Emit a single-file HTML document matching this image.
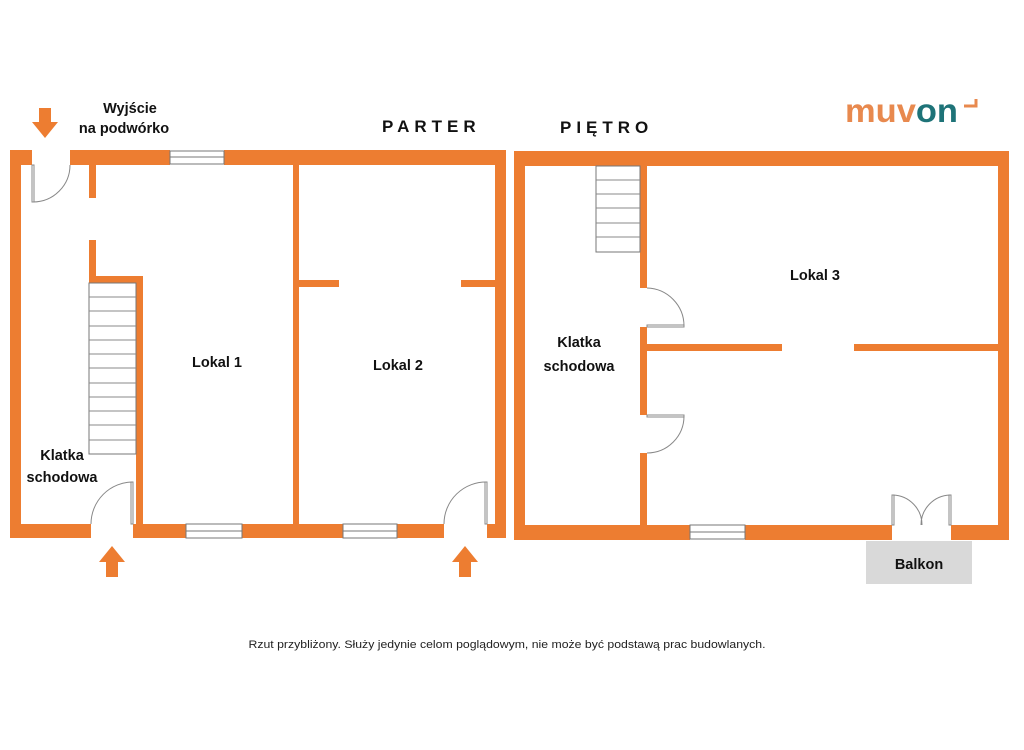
<!DOCTYPE html>
<html><head><meta charset="utf-8"><style>
html,body{margin:0;padding:0;background:#fff;}
svg{display:block;}
text{font-family:"Liberation Sans",sans-serif;}
</style></head><body>
<svg width="1024" height="750" viewBox="0 0 1024 750" xmlns="http://www.w3.org/2000/svg">
<g fill="#ED7D31">
<rect x="10" y="150" width="22" height="15"/>
<rect x="70" y="150" width="100" height="15"/>
<rect x="224" y="150" width="282" height="15"/>
<rect x="10" y="150" width="11" height="388"/>
<rect x="495" y="150" width="11" height="388"/>
<rect x="10" y="524" width="81" height="14"/>
<rect x="133" y="524" width="53" height="14"/>
<rect x="242" y="524" width="101" height="14"/>
<rect x="397" y="524" width="47" height="14"/>
<rect x="487" y="524" width="19" height="14"/>
<rect x="89" y="164" width="7" height="34"/>
<rect x="89" y="240" width="7" height="43"/>
<rect x="89" y="276" width="54" height="7"/>
<rect x="136" y="276" width="7" height="250"/>
<rect x="293" y="164" width="6" height="362"/>
<rect x="299" y="280" width="40" height="7"/>
<rect x="461" y="280" width="34" height="7"/>
<polygon points="39,108 51,108 51,122 58,122 45,138 32,122 39,122"/>
<polygon points="106,577 118,577 118,562 125,562 112,546 99,562 106,562"/>
<polygon points="459,577 471,577 471,562 478,562 465,546 452,562 459,562"/>
<rect x="514" y="151" width="495" height="15"/>
<rect x="514" y="151" width="11" height="389"/>
<rect x="998" y="151" width="11" height="389"/>
<rect x="514" y="525" width="176" height="15"/>
<rect x="745" y="525" width="147" height="15"/>
<rect x="951" y="525" width="58" height="15"/>
<rect x="640" y="166" width="7" height="122"/>
<rect x="640" y="327" width="7" height="88"/>
<rect x="640" y="453" width="7" height="73"/>
<rect x="647" y="344" width="135" height="7"/>
<rect x="854" y="344" width="144" height="7"/>
</g>
<g fill="#fff" stroke="#777" stroke-width="1">
<rect x="170" y="151" width="54" height="13"/><line x1="170" y1="157" x2="224" y2="157"/>
<rect x="186" y="524" width="56" height="14"/><line x1="186" y1="531" x2="242" y2="531"/>
<rect x="343" y="524" width="54" height="14"/><line x1="343" y1="531" x2="397" y2="531"/>
<rect x="690" y="525" width="55" height="14"/><line x1="690" y1="532" x2="745" y2="532"/>
<rect x="89" y="283" width="47" height="171"/>
<rect x="596" y="166" width="44" height="86"/>
</g>
<g stroke="#888" stroke-width="1" fill="none">
<line x1="89" y1="297" x2="136" y2="297"/><line x1="89" y1="311" x2="136" y2="311"/><line x1="89" y1="326" x2="136" y2="326"/><line x1="89" y1="340" x2="136" y2="340"/><line x1="89" y1="354" x2="136" y2="354"/><line x1="89" y1="368" x2="136" y2="368"/><line x1="89" y1="383" x2="136" y2="383"/><line x1="89" y1="397" x2="136" y2="397"/><line x1="89" y1="411" x2="136" y2="411"/><line x1="89" y1="425" x2="136" y2="425"/><line x1="89" y1="440" x2="136" y2="440"/>
<line x1="596" y1="180" x2="640" y2="180"/><line x1="596" y1="194" x2="640" y2="194"/><line x1="596" y1="208" x2="640" y2="208"/><line x1="596" y1="223" x2="640" y2="223"/><line x1="596" y1="237" x2="640" y2="237"/>
<rect x="32" y="165" width="2" height="37"/><path d="M33 202 A37 37 0 0 0 70 165"/>
<rect x="131" y="482" width="2" height="42"/><path d="M133 482 A42 42 0 0 0 91 524"/>
<rect x="485" y="482" width="2" height="42"/><path d="M487 482 A42 42 0 0 0 444 524"/>
<rect x="647" y="325" width="37" height="2"/><path d="M647 288 A38 38 0 0 1 684 326"/>
<rect x="647" y="415" width="37" height="2"/><path d="M684 416 A37 37 0 0 1 647 453"/>
<rect x="892" y="495" width="2" height="30"/><path d="M893 495 A30 30 0 0 1 922 525"/>
<rect x="949" y="495" width="2" height="30"/><path d="M950 495 A30 30 0 0 0 921 525"/>
</g>
<rect x="866" y="541" width="106" height="43" fill="#d9d9d9"/>
<g font-weight="bold" font-size="14.5" fill="#111" text-anchor="middle">
<text x="130" y="113">Wyjście</text>
<text x="124" y="133">na podwórko</text>
<text x="217" y="367">Lokal 1</text>
<text x="398" y="370">Lokal 2</text>
<text x="62" y="460">Klatka</text>
<text x="62" y="482">schodowa</text>
<text x="579" y="347">Klatka</text>
<text x="579" y="371">schodowa</text>
<text x="815" y="280">Lokal 3</text>
<text x="919" y="569">Balkon</text>
</g>
<text x="382" y="132" font-weight="bold" font-size="17" letter-spacing="5" fill="#111">PARTER</text>
<text x="560" y="133" font-weight="bold" font-size="17" letter-spacing="5" fill="#111">PIĘTRO</text>
<text x="845" y="122" font-weight="bold" font-size="33" textLength="113" lengthAdjust="spacingAndGlyphs" fill="#E8894E">muv<tspan fill="#1E7378">on</tspan></text>
<path d="M964 106 L976 106 L976 99" stroke="#E8894E" stroke-width="3" fill="none"/>
<text x="507" y="648" font-size="11" fill="#222" text-anchor="middle" textLength="517" lengthAdjust="spacingAndGlyphs">Rzut przybliżony. Służy jedynie celom poglądowym, nie może być podstawą prac budowlanych.</text>
</svg>
</body></html>
